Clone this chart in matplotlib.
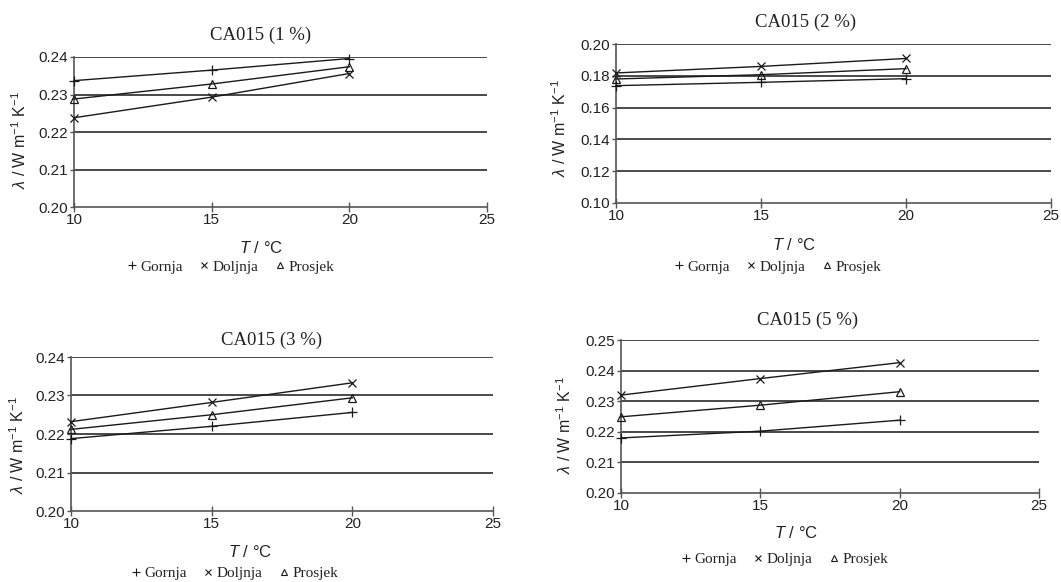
import matplotlib.pyplot as plt
import numpy as np

plt.rcParams['mathtext.fontset'] = 'custom'
plt.rcParams['mathtext.it'] = 'Liberation Sans:italic'
plt.rcParams['mathtext.rm'] = 'Liberation Sans'

# data
temp = [10, 15, 20]
series = ['Gornja', 'Doljnja', 'Prosjek']

titles = ['CA015 (1 %)', 'CA015 (2 %)', 'CA015 (3 %)', 'CA015 (5 %)']
gornja = [[0.2337, 0.2365, 0.2396],
          [0.1738, 0.1759, 0.1782],
          [0.2188, 0.2220, 0.2256],
          [0.2180, 0.2202, 0.2238]]
doljnja = [[0.2238, 0.2293, 0.2356],
           [0.1818, 0.1859, 0.1909],
           [0.2232, 0.2282, 0.2333],
           [0.2320, 0.2374, 0.2426]]
prosjek = [[0.2288, 0.2328, 0.2374],
           [0.1780, 0.1807, 0.1845],
           [0.2212, 0.2250, 0.2294],
           [0.2249, 0.2287, 0.2331]]
yranges = [(0.20, 0.24, 0.01), (0.10, 0.20, 0.02), (0.20, 0.24, 0.01), (0.20, 0.25, 0.01)]

W, H = 1061, 582
fig = plt.figure(figsize=(W / 100, H / 100), dpi=100)

# pixel boxes: left, right, top, bottom
boxes = [(74, 487, 57, 207), (616, 1051, 44, 203), (71, 493, 357, 511), (621, 1039, 340, 493)]
title_pos = [(261, 35), (806, 22), (272, 340), (808, 320)]
xlab_pos = [(261, 248), (794, 245), (250, 552), (796, 533)]
ylab_pos = [(20, 140), (560, 128), (18, 445), (565, 425)]
leg_pos = [(231, 267), (778, 267), (235, 573), (785, 559)]

txt = '#222222'
grid_c = '#3a3a3a'
markers = ['+', 'x', '^']
sizes = [7, 6, 5.5]

for i in range(4):
    l, r, t, b = boxes[i]
    ax = fig.add_axes([l / W, 1 - b / H, (r - l) / W, (b - t) / H])
    ymin, ymax, step = yranges[i]
    for vals, m, s in zip([gornja[i], doljnja[i], prosjek[i]], markers, sizes):
        ax.plot(temp, vals, color='#1a1a1a', lw=1.0, marker=m, ms=s,
                mfc='none', mec='#1a1a1a', mew=0.9, zorder=3, clip_on=False)
    ax.set_xlim(10, 25)
    ax.set_ylim(ymin, ymax)
    ax.set_xticks([10, 15, 20, 25])
    yt = np.round(np.arange(ymin, ymax + step / 2, step), 2)
    ax.set_yticks(yt)
    ax.set_yticklabels(['%.2f' % v for v in yt])
    for v in yt[1:]:
        ax.axhline(v, color=grid_c, lw=1.3, zorder=1)
    for s in ['top', 'right']:
        ax.spines[s].set_visible(False)
    for s in ['left', 'bottom']:
        ax.spines[s].set_color('#555555')
        ax.spines[s].set_linewidth(1.2)
    ax.tick_params(axis='x', direction='inout', length=7, width=1, color='#555555',
                   labelsize=11, labelcolor=txt, pad=1)
    ax.tick_params(axis='y', direction='out', length=3, width=1, color='#555555',
                   labelsize=11, labelcolor=txt, pad=1)
    for lab in ax.get_xticklabels() + ax.get_yticklabels():
        lab.set_family('Liberation Sans')

    fig.text(title_pos[i][0] / W, 1 - title_pos[i][1] / H, titles[i],
             family='Liberation Serif', fontsize=13.5, color=txt, ha='center', va='center')
    fig.text(xlab_pos[i][0] / W, 1 - xlab_pos[i][1] / H, r'$T$ / °C',
             family='Liberation Sans', fontsize=12, color=txt, ha='center', va='center')
    fig.text(ylab_pos[i][0] / W, 1 - ylab_pos[i][1] / H,
             r'$\lambda$ / W m$^{-1}$ K$^{-1}$', family='Liberation Sans',
             fontsize=11.5, color=txt, rotation=90, ha='center', va='center')

    handles = [plt.Line2D([], [], ls='none', marker=m, ms=s - 1, mfc='none',
                          mec='#1a1a1a', mew=0.8) for m, s in zip(markers, sizes)]
    fig.legend(handles, series, loc='center',
               bbox_to_anchor=(leg_pos[i][0] / W, 1 - leg_pos[i][1] / H),
               ncol=3, frameon=False, handlelength=0.6, handletextpad=0.25,
               columnspacing=1.1, prop={'family': 'Liberation Serif', 'size': 11},
               labelcolor=txt)

fig.savefig('out.png', dpi=100)
